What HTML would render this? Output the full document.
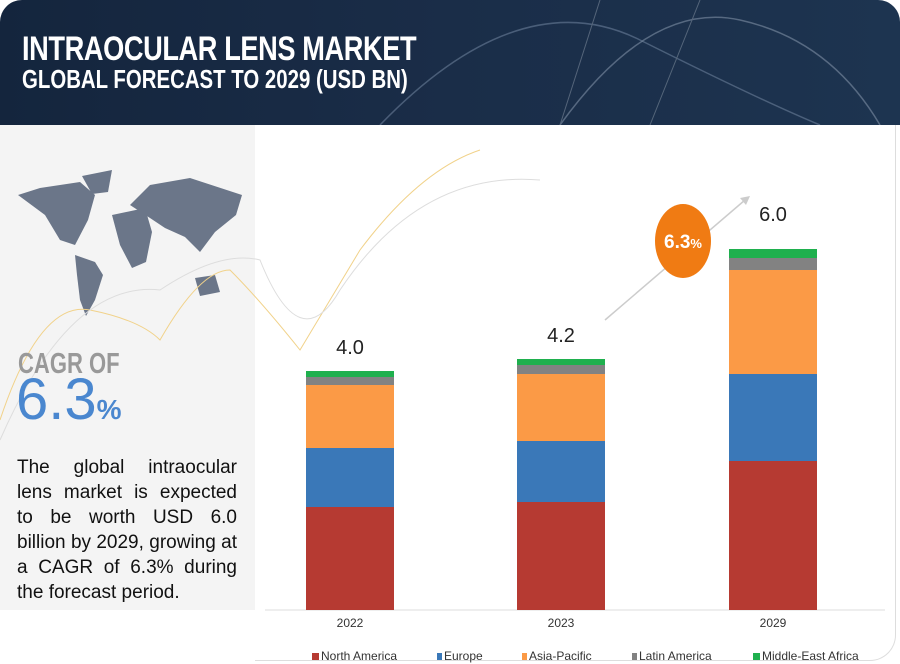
<!DOCTYPE html>
<html><head><meta charset="utf-8"><style>
body{margin:0;width:900px;height:664px;background:#fff;font-family:"Liberation Sans",sans-serif;overflow:hidden;position:relative}
.hdr{position:absolute;left:0;top:0;width:900px;height:125px;background:linear-gradient(90deg,#14253d,#1a2d48 50%,#1d3450);border-radius:22px 22px 0 0}
.t1{position:absolute;left:22px;top:30px;color:#fff;font-weight:bold;font-size:34px;transform:scaleX(.8);transform-origin:left;letter-spacing:-0.5px;white-space:nowrap}
.t2{position:absolute;left:22px;top:66px;color:#fff;font-weight:bold;font-size:25.5px;transform:scaleX(.8);transform-origin:left;white-space:nowrap}
.left{position:absolute;left:0;top:125px;width:255px;height:485px;background:#f4f4f4}
.card{position:absolute;left:255px;top:125px;width:640px;height:535px;border-right:1px solid #ddd;border-bottom:1px solid #ddd;border-radius:0 0 26px 0}
.para{position:absolute;left:17px;top:455px;width:220px;font-size:19px;line-height:25px;text-align:justify;color:#111}
.bar{position:absolute;width:88px}
.lbl{position:absolute;font-size:20px;color:#222;width:88px;text-align:center}
.yr{position:absolute;top:616px;font-size:12px;color:#333;width:88px;text-align:center}
.leg{position:absolute;top:649px;font-size:12px;color:#333;white-space:nowrap}
.leg i{display:inline-block;width:7px;height:7px;margin-right:2px}
</style></head><body>
<div class="hdr">
<svg width="900" height="125" style="position:absolute;left:0;top:0">
<path d="M380 125 Q520 -20 640 40 T820 125" stroke="#6a7f99" stroke-width="1.5" fill="none" opacity=".6"/>
<path d="M560 125 Q650 0 740 20 T880 125" stroke="#7e8fa5" stroke-width="1.5" fill="none" opacity=".6"/>
<path d="M600 0 L560 125 M700 0 L650 125" stroke="#55657a" fill="none"/>
</svg>
<div class="t1">INTRAOCULAR LENS MARKET</div>
<div class="t2">GLOBAL FORECAST TO 2029 (USD BN)</div>
</div>
<div class="left"></div>
<div class="card"></div>
<svg width="900" height="664" style="position:absolute;left:0;top:0">
<g fill="#6b7689">
<path d="M18 195 L40 188 L80 182 L95 195 L88 220 L75 245 L60 240 L45 215 Z"/>
<path d="M82 176 L112 170 L108 192 L92 194Z"/>
<path d="M75 255 L95 262 L103 275 L95 300 L86 316 L80 300 L77 275Z"/>
<path d="M112 215 L145 208 L152 232 L146 262 L132 268 L120 245 Z"/>
<path d="M130 205 L150 185 L190 178 L242 195 L236 215 L215 232 L200 252 L185 237 L165 228 L150 218Z"/>
<path d="M195 278 L215 275 L220 292 L200 296Z"/>
</g>
<path d="M0 420 Q40 300 90 310 T160 340 Q200 270 230 270 Q260 300 300 350 Q330 300 360 250 Q420 170 480 150" stroke="#f1d28a" fill="none"/>
<path d="M0 440 Q70 280 160 290 Q220 250 260 260 Q300 360 340 290 Q420 170 540 180" stroke="#ddd" fill="none"/>
<line x1="605" y1="320" x2="745" y2="200" stroke="#ccc" stroke-width="1.5"/>
<polygon points="750,196 740,198 746,205" fill="#ccc"/>
<ellipse cx="683" cy="241" rx="28" ry="37" fill="#f07b13"/>
<text x="683" y="248" fill="#fff" font-size="19" font-weight="bold" text-anchor="middle" font-family="Liberation Sans">6.3<tspan font-size="13">%</tspan></text>
<line x1="265" y1="610" x2="885" y2="610" stroke="#ddd"/>
</svg>
<div style="position:absolute;left:18px;top:348px;font-size:29px;font-weight:bold;color:#999;transform:scaleX(.76);transform-origin:left;white-space:nowrap">CAGR OF</div>
<div style="position:absolute;left:16px;top:366px;font-size:58px;color:#4a87cf;white-space:nowrap">6.3<span style="font-size:28px;font-weight:bold">%</span></div>
<div class="para">The global intraocular lens market is expected to be worth USD 6.0 billion by 2029, growing at a CAGR of 6.3% during the forecast period.</div>

<div class="bar" style="left:306px;top:371px;height:6px;background:#1fb04e"></div>
<div class="bar" style="left:306px;top:377px;height:8px;background:#828282"></div>
<div class="bar" style="left:306px;top:385px;height:63px;background:#fb9a46"></div>
<div class="bar" style="left:306px;top:448px;height:59px;background:#3a78b8"></div>
<div class="bar" style="left:306px;top:507px;height:103px;background:#b63a32"></div>
<div class="lbl" style="left:306px;top:337px">4.0</div>

<div class="bar" style="left:517px;top:359px;height:6px;background:#1fb04e"></div>
<div class="bar" style="left:517px;top:365px;height:9px;background:#828282"></div>
<div class="bar" style="left:517px;top:374px;height:67px;background:#fb9a46"></div>
<div class="bar" style="left:517px;top:441px;height:61px;background:#3a78b8"></div>
<div class="bar" style="left:517px;top:502px;height:108px;background:#b63a32"></div>
<div class="lbl" style="left:517px;top:325px">4.2</div>

<div class="bar" style="left:729px;top:249px;height:9px;background:#1fb04e"></div>
<div class="bar" style="left:729px;top:258px;height:12px;background:#828282"></div>
<div class="bar" style="left:729px;top:270px;height:104px;background:#fb9a46"></div>
<div class="bar" style="left:729px;top:374px;height:87px;background:#3a78b8"></div>
<div class="bar" style="left:729px;top:461px;height:149px;background:#b63a32"></div>
<div class="lbl" style="left:729px;top:204px">6.0</div>

<div class="yr" style="left:306px">2022</div>
<div class="yr" style="left:517px">2023</div>
<div class="yr" style="left:729px">2029</div>

<div class="leg" style="left:312px"><i style="background:#b63a32"></i>North America</div>
<div class="leg" style="left:437px"><i style="background:#3a78b8;width:5px"></i>Europe</div>
<div class="leg" style="left:522px"><i style="background:#fb9a46;width:5px"></i>Asia-Pacific</div>
<div class="leg" style="left:632px"><i style="background:#828282;width:5px"></i>Latin America</div>
<div class="leg" style="left:753px"><i style="background:#1fb04e"></i>Middle-East Africa</div>
</body></html>
